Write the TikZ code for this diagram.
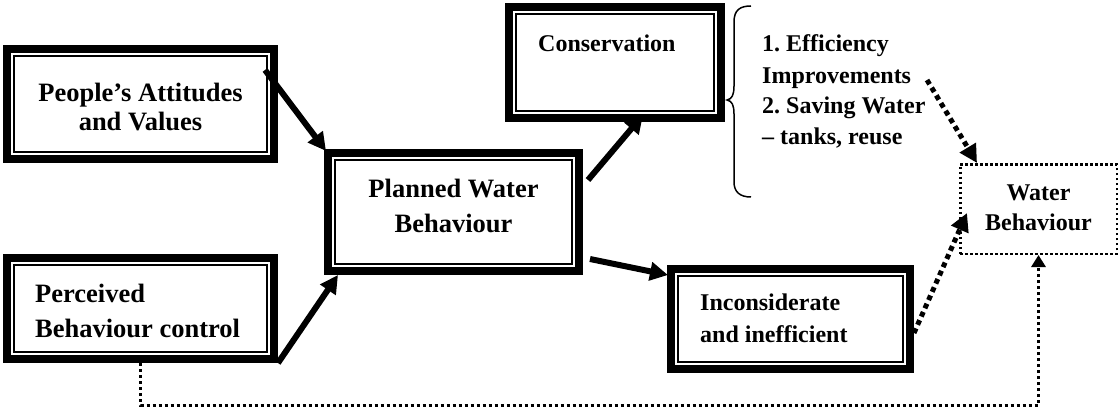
\documentclass[tikz,border=0pt]{standalone}
\usepackage{fontspec}
\setmainfont{Liberation Serif}
\usetikzlibrary{arrows.meta}
\frenchspacing
\newcommand\innerframe[1]{\draw[line width=2pt] ([shift={(11,11)}]#1.north west) rectangle ([shift={(-11,-11)}]#1.south east);}
\begin{document}
\begin{tikzpicture}[x=1pt,y=-1pt,
  tbox/.style={draw, line width=8pt, inner sep=0pt},
  dotbox/.style={draw, line width=2.5pt, dash pattern=on 2.5pt off 2.5pt, inner sep=0pt},
  bigtxt/.style={font=\fontsize{26.5}{35}\selectfont\bfseries, inner sep=0pt},
  smalltxt/.style={font=\fontsize{24}{31}\selectfont\bfseries, inner sep=0pt},
  solidarrow/.style={line width=6pt, -{Triangle[length=18pt,width=18pt]}},
  dotarrow/.style={line width=5pt, dash pattern=on 5pt off 4pt, -{Triangle[length=18pt,width=18pt]}},
  thindot/.style={line width=3pt, dash pattern=on 3pt off 3pt, -{Triangle[length=12pt,width=14pt]}},
  bracestyle/.style={line width=1.5pt}
  ]
\useasboundingbox (0,0) rectangle (1119,409);

% boxes
\node[tbox, minimum width=267pt, minimum height=110pt] (people) at (140.5,104) {};
\node[tbox, minimum width=267pt, minimum height=101pt] (perceived) at (140.5,308.5) {};
\node[tbox, minimum width=251pt, minimum height=118pt] (planned) at (453.5,212) {};
\node[tbox, minimum width=212pt, minimum height=111pt] (conservation) at (615,62.5) {};
\node[tbox, minimum width=239pt, minimum height=100pt] (inconsiderate) at (790.5,319) {};
\node[dotbox, minimum width=156.5pt, minimum height=89.5pt] (water) at (1038.5,209) {};
\innerframe{people}
\innerframe{perceived}
\innerframe{planned}
\innerframe{conservation}
\innerframe{inconsiderate}

% texts (base anchor = baseline of the last line)
\node[bigtxt, font=\fontsize{26.5}{29.5}\selectfont\bfseries, align=center, anchor=base] (peopletxt) at (140.5,131) {People’s Attitudes\\and Values};
\node[bigtxt, align=left, anchor=base west] (perceivedtxt) at (35,337) {Perceived\\Behaviour control};
\node[bigtxt, align=center, anchor=base] (plannedtxt) at (453.5,232) {Planned Water\\Behaviour};
\node[smalltxt, anchor=base west] (constxt) at (538,52) {Conservation};
\node[smalltxt, font=\fontsize{24}{32}\selectfont\bfseries, align=left, anchor=base west] (incontxt) at (700,342) {Inconsiderate\\and inefficient};
\node[smalltxt, align=left, anchor=base west] (bracetxt) at (762,145) {1. Efficiency\\Improvements\\2. Saving Water\\– tanks, reuse};
\node[smalltxt, font=\fontsize{24}{30}\selectfont\bfseries, align=center, anchor=base] (watertxt) at (1038.5,230) {Water\\Behaviour};

% brace
\draw[bracestyle] (751,6) .. controls (740,6) and (734,10) .. (734,22) -- (734,86)
  .. controls (734,95) and (732,99) .. (727,100)
  .. controls (732,101) and (734,105) .. (734,114) -- (734,182)
  .. controls (734,192) and (740,197) .. (751,197);

% solid arrows
\draw[solidarrow] ([shift={(-13,25)}]people.north east) -- ([shift={(2,2)}]planned.north west);
\draw[solidarrow] (perceived.south east) -- ([shift={(14,0)}]planned.south west);
\draw[solidarrow] ([shift={(5,31)}]planned.north east) -- ([shift={(28,-7)}]conservation.south);
\draw[solidarrow] ([shift={(7,-16)}]planned.south east) -- ([shift={(1,10)}]inconsiderate.north west);

% dotted arrows
\coordinate (impend) at (927,80);
\draw[dotarrow] (impend) -- ([shift={(18,0)}]water.north west);
\draw[dotarrow] ([shift={(0,14)}]inconsiderate.east) -- ([shift={(8,4)}]water.west);
\coordinate (bottomleft) at (140.5,405);
\draw[thindot] (perceived.south) -- (perceived.south |- bottomleft) -| (water.south);
\end{tikzpicture}
\end{document}
